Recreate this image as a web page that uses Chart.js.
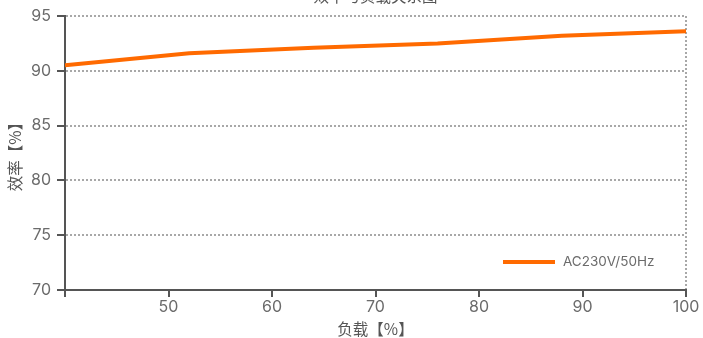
<!DOCTYPE html>
<html>
<head>
<meta charset="utf-8">
<script src="https://cdn.jsdelivr.net/npm/chart.js@4/dist/chart.umd.min.js"></script>
<style>
  html, body { margin: 0; padding: 0; background: #fff; }
  #wrap { width: 703px; height: 338px; position: relative; }
</style>
</head>
<body>
<div id="wrap"><canvas id="effChart"></canvas></div>
<script>
// load [%] vs efficiency [%]
var loadPct = [40, 52, 64, 76, 88, 100];
var efficiency = [90.5, 91.6, 92.1, 92.5, 93.2, 93.6];
var seriesName = "AC230V/50Hz";
var chartTitle = "效率与负载关系图";
var xTitle = "负载【%】";
var yTitle = "效率【%】";

var FONT = "Inter, 'Noto Sans CJK SC', sans-serif";
var CJK = "'Noto Sans CJK SC', sans-serif";
var ORANGE = "#ff6a00";

// title sits partly above the canvas, legend sits inside the plot
var extras = {
  id: "extras",
  afterDraw: function (chart) {
    var c = chart.ctx, a = chart.chartArea;
    c.save();
    c.fillStyle = "#555";
    c.font = "15.5px " + CJK;
    c.textAlign = "center";
    c.textBaseline = "bottom";
    c.fillText(chartTitle, (a.left + a.right) / 2, 4);

    c.strokeStyle = ORANGE;
    c.lineWidth = 4;
    c.beginPath();
    c.moveTo(a.right - 183, a.bottom - 28);
    c.lineTo(a.right - 131, a.bottom - 28);
    c.stroke();
    c.fillStyle = "#6b6b6b";
    c.font = "13.5px " + FONT;
    c.textAlign = "left";
    c.textBaseline = "middle";
    c.fillText(seriesName, a.right - 123, a.bottom - 28);
    c.restore();
  }
};

new Chart(document.getElementById("effChart"), {
  type: "line",
  data: {
    datasets: [{
      label: seriesName,
      data: loadPct.map(function (x, i) { return { x: x, y: efficiency[i] }; }),
      borderColor: ORANGE,
      backgroundColor: ORANGE,
      borderWidth: 4,
      pointRadius: 0,
      tension: 0,
      fill: false
    }]
  },
  options: {
    responsive: true,
    maintainAspectRatio: false,
    animation: false,
    layout: { padding: { top: 16, right: 17, left: 0, bottom: 0 } },
    plugins: {
      legend: { display: false },
      tooltip: { enabled: false }
    },
    scales: {
      x: {
        type: "linear",
        min: 40,
        max: 100,
        afterFit: function (s) { s.height = 48; },
        ticks: {
          stepSize: 10,
          color: "#6b6b6b",
          font: { family: FONT, size: 16 },
          padding: 1,
          maxRotation: 0,
          callback: function (v) { return v === 40 ? "" : v; }
        },
        grid: {
          color: function (ctx) { return ctx.tick && ctx.tick.value === 100 ? "#a8a8a8" : "rgba(0,0,0,0)"; },
          lineWidth: 2,
          tickColor: "#555",
          tickLength: 7,
          tickWidth: 2,
          tickBorderDash: []
        },
        border: { color: "#555", width: 2, dash: [2, 2] },
        title: {
          display: true,
          text: xTitle,
          color: "#555",
          font: { family: CJK, size: 15.5 },
          padding: { top: 0, bottom: 0 }
        }
      },
      y: {
        min: 70,
        max: 95,
        afterFit: function (s) { s.width = 65; },
        ticks: {
          stepSize: 5,
          color: "#6b6b6b",
          font: { family: FONT, size: 16 },
          padding: 6
        },
        grid: {
          color: "#a8a8a8",
          lineWidth: 2,
          tickColor: "#555",
          tickLength: 8,
          tickWidth: 2,
          tickBorderDash: []
        },
        border: { color: "#555", width: 2, dash: [2, 2] },
        title: {
          display: true,
          text: yTitle,
          color: "#555",
          font: { family: CJK, size: 15.5 },
          padding: { top: 6, bottom: 0 }
        }
      }
    }
  },
  plugins: [extras]
});
</script>
</body>
</html>
